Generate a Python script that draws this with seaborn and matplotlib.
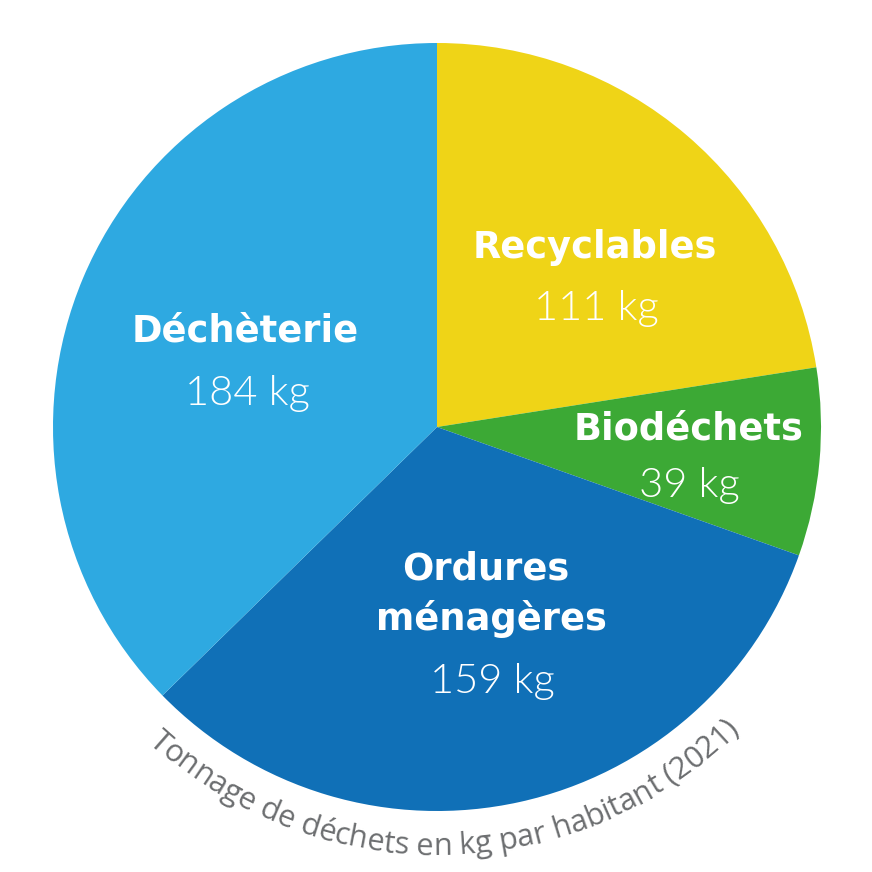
import numpy as np
import pandas as pd
import seaborn as sns
import matplotlib.pyplot as plt
from matplotlib import font_manager

# Data
categories = ['Recyclables', 'Biodéchets', 'Ordures\nménagères', 'Déchèterie']
values_kg = [111, 39, 159, 184]
value_labels = ['111 kg', '39 kg', '159 kg', '184 kg']
caption = 'Tonnage de déchets en kg par habitant (2021)'

df = pd.DataFrame({'categorie': categories, 'kg': values_kg, 'label': value_labels})

sns.set_theme(style='white')
palette = sns.color_palette(['#EFD417', '#3CA935', '#1070B7', '#2EA9E1'])

names = {f.name for f in font_manager.fontManager.ttflist}
cap_family = 'Liberation Sans Narrow' if 'Liberation Sans Narrow' in names else 'Open Sans'
plt.rcParams['font.family'] = ['DejaVu Sans']

# thin font for the values: a real "Light" face if there is one
light_files = [f.fname for f in font_manager.fontManager.ttflist
               if f.fname.endswith(('Lato-Light.ttf', 'OpenSans-Light.ttf', 'Roboto-Light.ttf'))]
if light_files:
    value_fp = font_manager.FontProperties(fname=sorted(light_files)[0], size=30)
else:
    value_fp = font_manager.FontProperties(family='Lato', size=30)

W = 872
fig = plt.figure(figsize=(W / 100, W / 100), dpi=100)
ax = fig.add_axes([0, 0, 1, 1])

cx, cy, R = 437, 445, 384
ax.pie(df['kg'], colors=palette, startangle=90, counterclock=False,
       center=(cx, cy), radius=R, wedgeprops=dict(linewidth=0))
ax.set_xlim(0, W)
ax.set_ylim(0, W)
ax.set_aspect('equal')
ax.axis('off')

# label positions (image px: x centre, baseline of name, baseline of value)
name_pos = [(595, 258), (689, 439), (486, 579), (245, 341)]
value_pos = [(596, 320), (689, 497), (492, 693), (247, 405)]

for i, row in df.iterrows():
    nx, ny = name_pos[i]
    vx, vy = value_pos[i]
    if '\n' in row['categorie']:
        l1, l2 = row['categorie'].split('\n')
        ax.text(nx, W - ny, l1, ha='center', va='baseline', color='white',
                fontsize=26.5, fontweight='bold', family='DejaVu Sans')
        ax.text(nx + 5, W - 630, l2, ha='center', va='baseline', color='white',
                fontsize=26.5, fontweight='bold', family='DejaVu Sans')
    else:
        ax.text(nx, W - ny, row['categorie'], ha='center', va='baseline', color='white',
                fontsize=26.5, fontweight='bold', family='DejaVu Sans')
    ax.text(vx, W - vy, row['label'], ha='center', va='baseline', color='white',
            fontproperties=value_fp)

# curved caption along the bottom
fp = font_manager.FontProperties(family=cap_family)
font = font_manager.get_font(font_manager.findfont(fp))
font.set_size(10, 100)
adv10 = [font.load_char(ord(c)).linearHoriAdvance / 65536 for c in caption]
R_base = 428
a0, a1 = np.radians(-132.5), np.radians(-45)
target = R_base * (a1 - a0)
size = 10 * target / sum(adv10)
adv = np.array(adv10) * size / 10
pos = np.cumsum(adv) - adv / 2 - adv.sum() / 2
mid = (a0 + a1) / 2
for ch, s in zip(caption, pos):
    th = mid + s / R_base
    ax.text(cx + R_base * np.cos(th), cy + R_base * np.sin(th), ch,
            rotation=np.degrees(th) + 90, rotation_mode='anchor',
            ha='center', va='baseline', color='#6C6E70',
            fontsize=size, family=cap_family)

fig.savefig('out.png', dpi=100, facecolor='white')
